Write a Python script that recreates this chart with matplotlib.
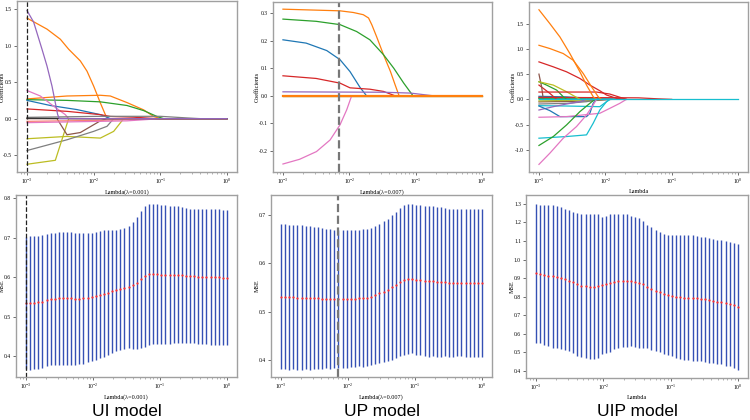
import numpy as np
import matplotlib
matplotlib.use("Agg")
import matplotlib.pyplot as plt

plt.rcParams['font.family'] = ['Liberation Serif', 'DejaVu Serif']
plt.rcParams['mathtext.fontset'] = 'stix'
plt.rcParams['axes.unicode_minus'] = False

# ---------------- data ----------------
TITLES = ["UI model", "UP model", "UIP model"]
XLABELS = ["Lambda(λ=0.001)", "Lambda(λ=0.007)", "Lambda"]
BEST_LAMBDA = [0.001, 0.007, None]

# Coefficient paths: (log10 lambda knots, coefficient values)
UI_PATHS = [
    ([-3, -2.7, -2.5, -2.375, -2.2, -2.1, -2.0, -1.9, -1.825, -1.79, 0], [1.376, 1.225, 1.087, 0.95, 0.79, 0.65, 0.445, 0.216, 0.055, 0, 0]),
    ([-3, -2.4, -1.9, -1.75, -1.5, -1.25, -1.1, -1.0, 0], [0.27, 0.31, 0.32, 0.31, 0.22, 0.12, 0.03, 0, 0]),
    ([-3, -2.4, -1.9, -1.5, -1.25, -1.05, -0.95, 0], [0.26, 0.25, 0.23, 0.18, 0.11, 0.03, 0, 0]),
    ([-3, -2.65, -2.25, -1.9, -1.8, -1.75, 0], [0.25, 0.18, 0.124, 0.055, 0.02, 0, 0]),
    ([-3, -2.8, -2.6, -2.425, -2.375, 0], [0.385, 0.31, 0.17, 0.055, 0, 0]),
    ([-3, -2.4, -1.9, -1.75, -1.4, -1.05, 0], [0.133, 0.10, 0.055, 0.03, 0.02, 0, 0]),
    ([-3, -2.4, -1.9, -1.7, -1.55, 0], [-0.275, -0.243, -0.266, -0.174, 0, 0]),
    ([-3, -2.4, -2.0, -1.8, -1.7, 0], [-0.436, -0.289, -0.174, -0.105, 0, 0]),
    ([-3, -2.575, -2.375, 0], [-0.624, -0.57, 0, 0]),
    ([-3, -2.55, -2.4, -2.2, -1.9, -1.8, 0], [0, 0, -0.22, -0.19, -0.03, 0, 0]),
    ([-3, -1.9, -1.0, -0.6, -0.4, 0], [0.018, 0.032, 0.032, 0.01, 0, 0]),
    ([-3, -1.9, -1.0, 0], [-0.037, -0.023, 0, 0]),
    ([-3, -1.5, -1.0, 0], [-0.055, -0.03, 0, 0]),
    ([-3, -2.0, 0], [0.005, 0, 0]),
    ([-3, -2.9, -2.775, -2.7, -2.625, -2.575, -2.54, -2.515, 0], [1.48, 1.32, 0.95, 0.72, 0.445, 0.216, 0.055, 0, 0]),
]
UI_COLORS = ['tab:orange', 'tab:orange', 'tab:green', 'tab:blue', 'tab:pink', 'tab:red',
             'tab:olive', 'tab:gray', 'tab:olive', 'tab:brown', 'tab:gray', 'salmon',
             'tab:pink', '#333333', 'tab:purple']

UP_PATHS = [
    ([-3, 0], [0, 0]),
    ([-3, 0], [0, 0]),
    ([-3, -2.14, -1.94, -1.79, -1.71, -1.66, -1.59, -1.485, -1.38, -1.31, -1.25, 0], [0.314, 0.308, 0.302, 0.294, 0.282, 0.257, 0.215, 0.149, 0.088, 0.04, 0, 0]),
    ([-3, -2.5, -2.14, -1.89, -1.69, -1.485, -1.33, -1.18, -1.04, 0], [0.278, 0.27, 0.258, 0.233, 0.203, 0.149, 0.1, 0.046, 0, 0]),
    ([-3, -2.65, -2.34, -2.14, -1.99, -1.84, -1.74, 0], [0.203, 0.191, 0.164, 0.131, 0.088, 0.031, 0, 0]),
    ([-3, -2.5, -2.14, -1.99, -1.69, -1.485, -1.31, 0], [0.0726, 0.063, 0.046, 0.029, 0.024, 0.016, 0, 0]),
    ([-3, -1.485, -1.08, -0.73, 0], [0.0145, 0.013, 0.01, 0, 0]),
    ([-3, -2.75, -2.495, -2.29, -2.14, -2.04, -1.965, 0], [-0.247, -0.23, -0.202, -0.16, -0.105, -0.051, 0, 0]),
    ([-3, 0], [0, 0]),
]
UP_COLORS = ['tab:gray', 'tab:olive', 'tab:orange', 'tab:green', 'tab:blue', 'tab:red',
             'tab:purple', 'tab:pink', 'tab:orange']

UIP_PATHS = [
    ([-3, -2.6, -2.2, -2.0], [0.06, 0.05, 0.02, 0]),
    ([-3, -2.5, -2.1, -1.9], [-0.05, -0.04, -0.02, 0]),
    ([-3, -2.4, -2.0, -1.8], [0.03, 0.03, 0.01, 0]),
    ([-3, -2.5, -2.2, -2.0], [-0.03, -0.02, -0.01, 0]),
    ([-3, -2.3, -1.9, -1.7], [0.02, 0.02, 0.01, 0]),
    ([-3, -2.6, -2.2], [0.01, 0.005, 0]),
    ([-3, -1.5, -1.2, -1.0], [0.04, 0.03, 0.01, 0]),
    ([-3, -2.584, -2.283, -2.083], [-0.092, -0.079, -0.046, 0]),
    ([-3, -2.584, -2.083, -1.982, -1.932], [-0.125, -0.132, -0.145, -0.046, 0]),
    ([-3, -2.784, -2.584, -2.383, -2.283], [-0.211, -0.145, -0.092, -0.046, 0]),
    ([-3, -2.835, -2.684, -2.283, -2.233, -2.183, -2.133], [-0.132, -0.224, -0.342, -0.342, -0.276, -0.079, 0]),
    ([-3, -2.584, -2.083, -1.932, -1.782, -1.682], [-0.355, -0.342, -0.276, -0.178, -0.079, 0]),
    ([-3, -2.584, -2.283, -2.183, -2.083, -1.982, -1.932], [-0.77, -0.737, -0.704, -0.474, -0.211, -0.046, 0]),
    ([-3, -2.835, -2.634, -2.434, -2.283, -2.183, -2.133], [-1.289, -1.066, -0.77, -0.539, -0.309, -0.112, 0]),
    ([-3, -2.784, -2.584, -2.383, -2.233, -2.158], [-0.914, -0.737, -0.507, -0.243, -0.079, 0]),
    ([-3, -2.835, -2.734], [0.283, 0.118, 0]),
    ([-3, -2.96, -2.935], [0.5, 0.25, 0]),
    ([-3, -2.885, -2.734, -2.634, -2.584], [0.349, 0.283, 0.184, 0.053, 0]),
    ([-3, -2.784, -2.584, -2.434, -2.383], [0.349, 0.283, 0.151, 0.039, 0]),
    ([-3, -2.133, -1.932, -1.682], [0.145, 0.145, 0.105, 0]),
    ([-3, -2.784, -2.584, -2.383, -2.233, -2.083, -1.982, -1.832, -1.682], [0.743, 0.645, 0.546, 0.414, 0.283, 0.171, 0.086, 0.02, 0]),
    ([-3, -2.835, -2.634, -2.484, -2.333, -2.208, -2.108, -2.058], [1.072, 1.007, 0.908, 0.776, 0.513, 0.25, 0.053, 0]),
    ([-3, -2.835, -2.684, -2.534, -2.383, -2.283, -2.183, -2.133], [1.776, 1.5, 1.237, 0.908, 0.546, 0.283, 0.053, 0]),
    ([-3, 0], [0, 0]),
]
UIP_COLORS = ['tab:blue', 'tab:brown', 'tab:gray', 'tab:olive', 'tab:cyan', 'tab:green',
              'tab:red', 'tab:gray', 'tab:cyan', 'tab:purple', 'tab:blue', 'tab:pink',
              'tab:cyan', 'tab:pink', 'tab:green', 'tab:red', 'tab:brown', 'tab:green',
              'tab:olive', 'tab:red', 'tab:red', 'tab:orange', 'tab:orange', 'tab:cyan']

# Cross-validation MSE (50 lambdas from 1e-3 to 1e0): mean and mean+SD
UI_MSE_MEAN = [0.534, 0.534, 0.535, 0.536, 0.538, 0.541, 0.544, 0.545, 0.546, 0.546,
               0.546, 0.546, 0.545, 0.545, 0.546, 0.548, 0.550, 0.552, 0.555, 0.558,
               0.561, 0.564, 0.567, 0.569, 0.572, 0.575, 0.579, 0.585, 0.594, 0.602,
               0.607, 0.608, 0.607, 0.606, 0.606, 0.606, 0.606, 0.606, 0.605, 0.604,
               0.603, 0.602, 0.601, 0.601, 0.601, 0.600, 0.600, 0.600, 0.599, 0.599]
UI_MSE_UPPER = [0.702, 0.703, 0.703, 0.704, 0.706, 0.708, 0.711, 0.713, 0.714, 0.714,
                0.714, 0.714, 0.713, 0.711, 0.711, 0.711, 0.712, 0.714, 0.716, 0.719,
                0.719, 0.719, 0.720, 0.722, 0.725, 0.730, 0.740, 0.752, 0.768, 0.780,
                0.786, 0.786, 0.784, 0.782, 0.782, 0.781, 0.780, 0.779, 0.777, 0.775,
                0.773, 0.772, 0.772, 0.772, 0.772, 0.772, 0.772, 0.772, 0.771, 0.771]

UP_MSE_MEAN = [0.531, 0.531, 0.530, 0.530, 0.529, 0.529, 0.529, 0.528, 0.528, 0.528,
               0.527, 0.527, 0.526, 0.526, 0.526, 0.526, 0.526, 0.527, 0.527, 0.528,
               0.528, 0.529, 0.531, 0.534, 0.538, 0.541, 0.545, 0.550, 0.555, 0.561,
               0.566, 0.568, 0.568, 0.566, 0.565, 0.564, 0.563, 0.563, 0.562, 0.561,
               0.561, 0.560, 0.560, 0.560, 0.560, 0.559, 0.559, 0.559, 0.559, 0.559]
UP_MSE_UPPER = [0.681, 0.681, 0.680, 0.679, 0.679, 0.678, 0.677, 0.676, 0.675, 0.674,
                0.673, 0.671, 0.670, 0.669, 0.669, 0.669, 0.669, 0.669, 0.669, 0.669,
                0.670, 0.671, 0.673, 0.677, 0.682, 0.687, 0.692, 0.699, 0.706, 0.714,
                0.721, 0.723, 0.722, 0.721, 0.720, 0.719, 0.719, 0.718, 0.717, 0.716,
                0.714, 0.713, 0.713, 0.712, 0.712, 0.712, 0.712, 0.712, 0.712, 0.712]

UIP_MSE_MEAN = [0.926, 0.922, 0.918, 0.914, 0.910, 0.906, 0.901, 0.895, 0.887, 0.878,
                0.868, 0.860, 0.856, 0.855, 0.855, 0.856, 0.861, 0.866, 0.873, 0.880,
                0.885, 0.887, 0.887, 0.886, 0.880, 0.875, 0.866, 0.855, 0.844, 0.833,
                0.824, 0.815, 0.809, 0.804, 0.800, 0.797, 0.795, 0.794, 0.792, 0.791,
                0.789, 0.786, 0.782, 0.778, 0.773, 0.769, 0.764, 0.759, 0.754, 0.746]
UIP_MSE_UPPER = [1.300, 1.295, 1.295, 1.295, 1.294, 1.290, 1.282, 1.275, 1.268, 1.259,
                 1.253, 1.246, 1.244, 1.246, 1.244, 1.244, 1.232, 1.237, 1.243, 1.244,
                 1.246, 1.246, 1.244, 1.237, 1.232, 1.226, 1.209, 1.187, 1.173, 1.160,
                 1.148, 1.137, 1.133, 1.130, 1.130, 1.130, 1.130, 1.130, 1.130, 1.128,
                 1.124, 1.122, 1.119, 1.113, 1.106, 1.103, 1.099, 1.094, 1.092, 1.085]

COEF_YTICKS = [[-0.5, 0.0, 0.5, 1.0, 1.5],
               [-0.2, -0.1, 0.0, 0.1, 0.2, 0.3],
               [-1.0, -0.5, 0.0, 0.5, 1.0, 1.5]]
COEF_YLIM = [(-0.73, 1.61), (-0.276, 0.34), (-1.44, 1.93)]
MSE_YTICKS = [[0.4, 0.5, 0.6, 0.7, 0.8],
              [0.4, 0.5, 0.6, 0.7],
              [0.4, 0.5, 0.6, 0.7, 0.8, 0.9, 1.0, 1.1, 1.2, 1.3]]
MSE_YLIM = [(0.347, 0.808), (0.365, 0.741), (0.362, 1.348)]

# ---------------- figure ----------------
W, H = 750, 420
fig = plt.figure(figsize=(7.5, 4.2), dpi=100)

def px_axes(l, r, t, b):
    return fig.add_axes([l / W, (H - b) / H, (r - l) / W, (b - t) / H])

top_boxes = [(17, 237, 1, 172), (273, 492, 2, 172), (529, 748, 2, 172)]
bot_boxes = [(16, 237, 195, 377), (271, 492, 195, 377), (526, 748, 195, 378)]
top_ylab_px = [5.0, 259.5, 515.5]   # right edge of rotated y label
bot_ylab_px = [5.0, 260.0, 515.0]

FRAME = '#a0a0a0'
TICKFS = 4.0
LABFS = 4.4

def style(ax):
    ax.set_xscale('log')
    ax.set_xlim(10 ** -3.15, 10 ** 0.15)
    for s in ax.spines.values():
        s.set_color(FRAME)
        s.set_linewidth(1.0)
    ax.tick_params(which='major', length=2.5, width=0.6, color='#555555',
                   labelsize=TICKFS, pad=1.2)
    ax.tick_params(which='minor', length=1.5, width=0.4, color='#777777')

paths_all = [UI_PATHS, UP_PATHS, UIP_PATHS]
colors_all = [UI_COLORS, UP_COLORS, UIP_COLORS]
mse_mean_all = [UI_MSE_MEAN, UP_MSE_MEAN, UIP_MSE_MEAN]
mse_up_all = [UI_MSE_UPPER, UP_MSE_UPPER, UIP_MSE_UPPER]

lams = np.logspace(-3, 0, 50)

def best_line(ax, k):
    if BEST_LAMBDA[k] is None:
        return
    if k == 0:
        ax.axvline(BEST_LAMBDA[k], color='#222222', ls='--', lw=0.9)
    else:
        ax.axvline(BEST_LAMBDA[k], color='#777777', ls='--', lw=1.6)

for k in range(3):
    # coefficient path panel
    l, r, t, b = top_boxes[k]
    ax = px_axes(l, r, t, b)
    style(ax)
    for (xs, ys), c in zip(paths_all[k], colors_all[k]):
        lw = 1.6 if (k == 1 and c == 'tab:orange' and len(xs) == 2) else 0.9
        ax.plot(10 ** np.array(xs, dtype=float), ys, color=c, lw=lw)
    ax.set_ylim(*COEF_YLIM[k])
    ax.set_yticks(COEF_YTICKS[k])
    ax.set_yticklabels([f"{v:.1f}" for v in COEF_YTICKS[k]])
    ax.set_ylabel("Coefficients", fontsize=LABFS)
    ax.yaxis.set_label_coords((top_ylab_px[k] - l) / (r - l), 0.5)
    ax.set_xlabel(XLABELS[k], fontsize=LABFS, labelpad=2)
    best_line(ax, k)

    # MSE panel
    l, r, t, b = bot_boxes[k]
    ax2 = px_axes(l, r, t, b)
    style(ax2)
    mean = np.array(mse_mean_all[k])
    err = np.array(mse_up_all[k]) - mean
    ax2.errorbar(lams, mean, yerr=err, fmt='none', ecolor='#3550b4', elinewidth=1.0)
    ax2.plot(lams, mean, 'o', color='#ff3030', ms=1.6, mec='none')
    ax2.set_ylim(*MSE_YLIM[k])
    ax2.set_yticks(MSE_YTICKS[k])
    ax2.set_yticklabels([f"{v:.1f}" for v in MSE_YTICKS[k]])
    ax2.set_ylabel("MSE", fontsize=LABFS)
    ax2.yaxis.set_label_coords((bot_ylab_px[k] - l) / (r - l), 0.5)
    ax2.set_xlabel(XLABELS[k], fontsize=LABFS, labelpad=2)
    best_line(ax2, k)

    fig.text(((l + r) / 2) / W, (H - 411) / H, TITLES[k], ha='center', va='center',
             fontsize=12.5, family=['Liberation Sans', 'DejaVu Sans'])

fig.savefig("out.png", dpi=100)
